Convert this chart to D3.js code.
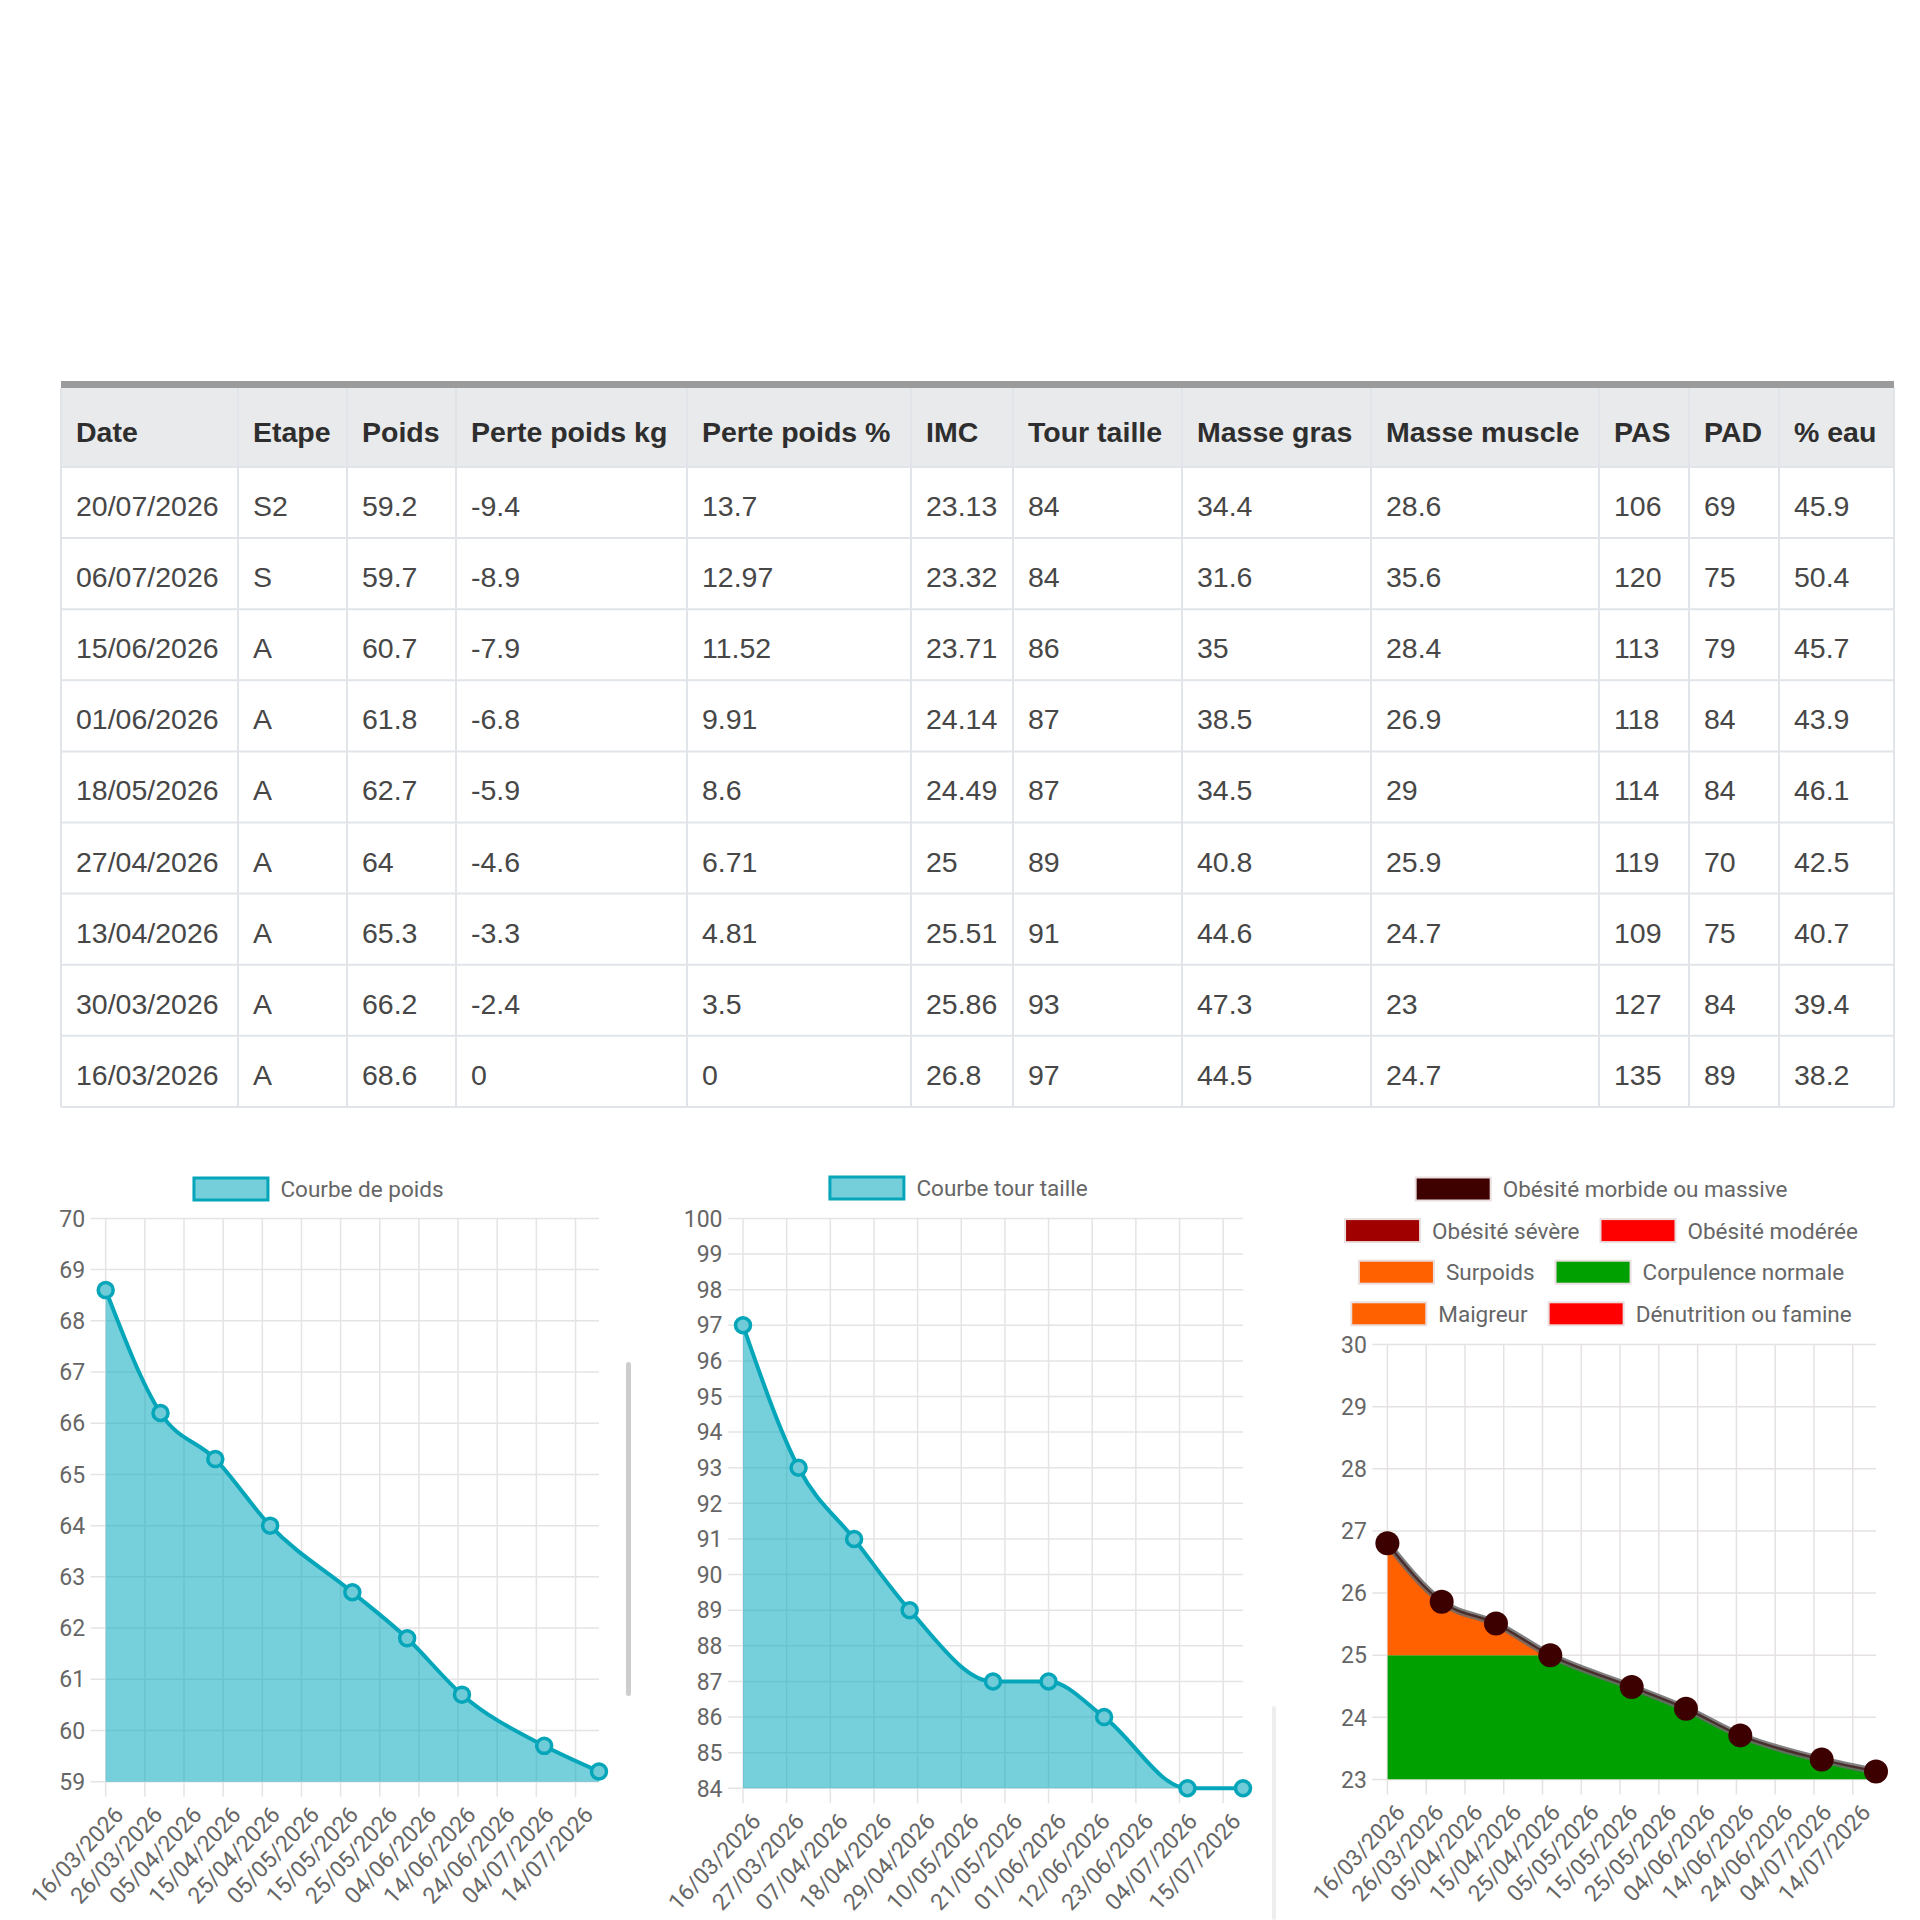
<!DOCTYPE html>
<html><head><meta charset="utf-8">
<script src="https://cdn.jsdelivr.net/npm/d3@7"></script>
<style>body{margin:0;background:#fff}svg{display:block}</style>
</head><body>
<svg id="c" width="1920" height="1920"></svg>
<script>
// ---------- DATA ----------
const headers = ["Date","Etape","Poids","Perte poids kg","Perte poids %","IMC","Tour taille","Masse gras","Masse muscle","PAS","PAD","% eau"];
const dates = ["20/07/2026","06/07/2026","15/06/2026","01/06/2026","18/05/2026","27/04/2026","13/04/2026","30/03/2026","16/03/2026"];
const etapes = ["S2","S","A","A","A","A","A","A","A"];
const poids = [59.2,59.7,60.7,61.8,62.7,64,65.3,66.2,68.6];
const perteKg = [-9.4,-8.9,-7.9,-6.8,-5.9,-4.6,-3.3,-2.4,0];
const pertePct = [13.7,12.97,11.52,9.91,8.6,6.71,4.81,3.5,0];
const imc = [23.13,23.32,23.71,24.14,24.49,25,25.51,25.86,26.8];
const tourTaille = [84,84,86,87,87,89,91,93,97];
const masseGras = [34.4,31.6,35,38.5,34.5,40.8,44.6,47.3,44.5];
const masseMuscle = [28.6,35.6,28.4,26.9,29,25.9,24.7,23,24.7];
const pas = [106,120,113,118,114,119,109,127,135];
const pad = [69,75,79,84,84,70,75,84,89];
const eau = [45.9,50.4,45.7,43.9,46.1,42.5,40.7,39.4,38.2];

const weightTicks = ["16/03/2026","26/03/2026","05/04/2026","15/04/2026","25/04/2026","05/05/2026","15/05/2026","25/05/2026","04/06/2026","14/06/2026","24/06/2026","04/07/2026","14/07/2026"];
const waistTicks = ["16/03/2026","27/03/2026","07/04/2026","18/04/2026","29/04/2026","10/05/2026","21/05/2026","01/06/2026","12/06/2026","23/06/2026","04/07/2026","15/07/2026"];
const imcTicks = ["16/03/2026","26/03/2026","05/04/2026","15/04/2026","25/04/2026","05/05/2026","15/05/2026","25/05/2026","04/06/2026","14/06/2026","24/06/2026","04/07/2026","14/07/2026"];
const weightRange = [59,70];
const waistRange = [84,100];
const imcRange = [23,30];
const imcNormalMax = 25;

const bmiLabels = ["Obésité morbide ou massive","Obésité sévère","Obésité modérée","Surpoids","Corpulence normale","Maigreur","Dénutrition ou famine"];
const bmiColors = ["#3f0000","#a00000","#ff0000","#ff6000","#00a000","#ff6000","#ff0000"];

// ---------- LAYOUT ----------
const svg = d3.select("#c");
const parse = d3.utcParse("%d/%m/%Y");
const fmt = d3.utcFormat("%d/%m/%Y");
const columns = [dates,etapes,poids,perteKg,pertePct,imc,tourTaille,masseGras,masseMuscle,pas,pad,eau];
const colEdges = [61,238,347,456,687,911,1013,1182,1371,1599,1689,1779,1894];
const T = {top:381, bar:7, headH:79, rowH:71.1};

// ---------- TABLE ----------
(function drawTable(){
  const g = svg.append("g");
  const left = colEdges[0], right = colEdges[colEdges.length-1];
  const headTop = T.top + T.bar;
  const bodyTop = headTop + T.headH;
  const bottom = bodyTop + T.rowH*dates.length;
  g.append("rect").attr("x",left).attr("y",headTop).attr("width",right-left).attr("height",T.headH).attr("fill","#e9eaeb");
  g.append("rect").attr("x",left).attr("y",T.top).attr("width",right-left).attr("height",T.bar).attr("fill","#9b9b9b");
  const hy = d3.range(dates.length+1).map(i=>bodyTop+i*T.rowH);
  g.selectAll("line.h").data(hy).join("line")
    .attr("x1",left).attr("x2",right).attr("y1",d=>d).attr("y2",d=>d)
    .attr("stroke","#e1e5e9").attr("stroke-width",2);
  g.selectAll("line.v").data(colEdges).join("line")
    .attr("x1",d=>d).attr("x2",d=>d).attr("y1",headTop).attr("y2",bottom)
    .attr("stroke","#e1e5e9").attr("stroke-width",2);
  g.selectAll("text.hd").data(headers).join("text")
    .attr("x",(d,i)=>colEdges[i]+15).attr("y",headTop+53.5)
    .attr("font-family","'Liberation Sans', Arial, sans-serif").attr("font-weight","bold")
    .attr("font-size",28.5).attr("fill","#2e2e2e").text(d=>d);
  columns.forEach((col,ci)=>{
    g.selectAll("text.c"+ci).data(col).join("text")
      .attr("x",colEdges[ci]+15).attr("y",(d,ri)=>bodyTop+ri*T.rowH+49)
      .attr("font-family","'Liberation Sans', Arial, sans-serif")
      .attr("font-size",28.5).attr("fill","#474747").text(d=>String(d));
  });
})();

// ---------- CHARTS ----------
const TICK_FONT = 23, XTICK_FONT = 23, LEG_FONT = 22.5, ROT = 47;
const chrono = d3.range(dates.length).reverse();

function axesAndGrid(g, x, y, xTicks, yTicks, x0, x1, yTop, yBot, gridColor){
  const gg = g.append("g");
  gg.selectAll("line.gy").data(yTicks).join("line")
    .attr("x1",x0-15).attr("x2",x1).attr("y1",d=>y(d)).attr("y2",d=>y(d))
    .attr("stroke",gridColor).attr("stroke-width",1.5);
  gg.selectAll("line.gx").data(xTicks).join("line")
    .attr("x1",d=>x(d)).attr("x2",d=>x(d)).attr("y1",yTop).attr("y2",yBot+15)
    .attr("stroke",gridColor).attr("stroke-width",1.5);
  g.selectAll("text.yl").data(yTicks).join("text")
    .attr("x",x0-20.5).attr("y",d=>y(d)+8.2).attr("text-anchor","end")
    .attr("font-family","Roboto").attr("font-size",TICK_FONT).attr("fill","#666").text(d=>d);
  g.selectAll("text.xl").data(xTicks).join("text")
    .attr("transform",d=>`translate(${x(d)+19},${yBot+34}) rotate(${-ROT})`)
    .attr("text-anchor","end")
    .attr("font-family","Roboto").attr("font-size",XTICK_FONT).attr("fill","#666").text(d=>fmt(d));
  return gg;
}

function tealChart(opt){
  const g = svg.append("g");
  const pts = chrono.map(i=>({date:parse(dates[i]), v:opt.values[i]}));
  const x = d3.scaleUtc().domain([parse(dates[dates.length-1]), parse(dates[0])]).range([opt.x0,opt.x1]);
  const y = d3.scaleLinear().domain(opt.range).range([opt.yBot,opt.yTop]);
  const yTicks = d3.range(opt.range[0], opt.range[1]+1);
  const xTicks = opt.ticks.map(parse);
  axesAndGrid(g,x,y,xTicks,yTicks,opt.x0,opt.x1,opt.yTop,opt.yBot,"#e4e4e4");
  const area = d3.area().x(d=>x(d.date)).y0(opt.yBot).y1(d=>y(d.v)).curve(d3.curveMonotoneX);
  const line = d3.line().x(d=>x(d.date)).y(d=>y(d.v)).curve(d3.curveMonotoneX);
  g.append("path").attr("d",area(pts)).attr("fill","rgba(0,168,190,0.54)");
  g.append("path").attr("d",line(pts)).attr("fill","none").attr("stroke","#06a6ba").attr("stroke-width",4);
  g.selectAll("circle").data(pts).join("circle")
    .attr("cx",d=>x(d.date)).attr("cy",d=>y(d.v)).attr("r",7.5)
    .attr("fill","#6fcbd7").attr("stroke","#06a6ba").attr("stroke-width",3.5);
  const lg = g.append("g");
  const t = lg.append("text").attr("font-family","Roboto").attr("font-size",LEG_FONT).attr("fill","#666").text(opt.label);
  const tw = t.node().getComputedTextLength();
  const total = 77 + 11 + tw;
  const bx = opt.legendCx - total/2;
  lg.insert("rect","text").attr("x",bx+1.5).attr("y",opt.legendY-11).attr("width",74).attr("height",22)
    .attr("fill","#75cfdb").attr("stroke","#06a6ba").attr("stroke-width",3);
  t.attr("x",bx+88).attr("y",opt.legendY+8);
}

tealChart({values:poids, range:weightRange, ticks:weightTicks, x0:105.7, x1:599, yTop:1218.4, yBot:1781.7,
  label:"Courbe de poids", legendCx:318, legendY:1189});
tealChart({values:tourTaille, range:waistRange, ticks:waistTicks, x0:743, x1:1243, yTop:1218.4, yBot:1788.3,
  label:"Courbe tour taille", legendCx:958, legendY:1188});

// IMC chart
(function(){
  const g = svg.append("g");
  const x0=1387.4, x1=1876, yTop=1344.5, yBot=1779.5;
  const pts = chrono.map(i=>({date:parse(dates[i]), v:imc[i]}));
  const x = d3.scaleUtc().domain([parse(dates[dates.length-1]), parse(dates[0])]).range([x0,x1]);
  const y = d3.scaleLinear().domain(imcRange).range([yBot,yTop]);
  const yTicks = d3.range(imcRange[0], imcRange[1]+1);
  axesAndGrid(g,x,y,imcTicks.map(parse),yTicks,x0,x1,yTop,yBot,"#e6e2e2");
  const area = d3.area().x(d=>x(d.date)).y0(yBot).y1(d=>y(d.v)).curve(d3.curveMonotoneX);
  const line = d3.line().x(d=>x(d.date)).y(d=>y(d.v)).curve(d3.curveMonotoneX);
  const defs = svg.append("defs");
  defs.append("clipPath").attr("id","clipN").append("rect")
    .attr("x",x0).attr("y",y(imcNormalMax)).attr("width",x1-x0).attr("height",yBot-y(imcNormalMax));
  defs.append("clipPath").attr("id","clipO").append("rect")
    .attr("x",x0).attr("y",yTop).attr("width",x1-x0).attr("height",y(imcNormalMax)-yTop);
  g.append("path").attr("d",area(pts)).attr("fill",bmiColors[4]).attr("clip-path","url(#clipN)");
  g.append("path").attr("d",area(pts)).attr("fill",bmiColors[3]).attr("clip-path","url(#clipO)");
  g.append("path").attr("d",line(pts)).attr("fill","none").attr("stroke","#6a6a6a").attr("stroke-width",7).attr("opacity",0.85);
  g.append("path").attr("d",line(pts)).attr("fill","none").attr("stroke","#4a2e2e").attr("stroke-width",2.5);
  g.selectAll("circle").data(pts).join("circle")
    .attr("cx",d=>x(d.date)).attr("cy",d=>y(d.v)).attr("r",12).attr("fill","#3d0000");
  const cx = 1601, maxW = 600, rowY0 = 1189, rowGap = 41.6;
  const lg = g.append("g");
  const items = bmiLabels.map((l,i)=>{
    const t = lg.append("text").attr("font-family","Roboto").attr("font-size",LEG_FONT).attr("fill","#666").text(l);
    return {t, w: 77+11+t.node().getComputedTextLength(), c: bmiColors[i]};
  });
  const rows = [];
  items.forEach(it=>{
    const r = rows[rows.length-1];
    if(r && r.w + 20 + it.w <= maxW){ r.items.push(it); r.w += 20 + it.w; }
    else rows.push({items:[it], w:it.w});
  });
  rows.forEach((r,ri)=>{
    let bx = cx - r.w/2; const yc = rowY0 + ri*rowGap;
    r.items.forEach(it=>{
      lg.insert("rect","text").attr("x",bx+1).attr("y",yc-11.5).attr("width",75).attr("height",23)
        .attr("fill",it.c).attr("stroke","#eadede").attr("stroke-width",2);
      it.t.attr("x",bx+88).attr("y",yc+8);
      bx += it.w + 20;
    });
  });
})();

// scrollbar remnants
svg.append("rect").attr("x",626).attr("y",1362).attr("width",5).attr("height",334).attr("rx",2.5).attr("fill","#cdcdcd");
svg.append("rect").attr("x",1272).attr("y",1706).attr("width",4).attr("height",214).attr("rx",2).attr("fill","#eeeeee");
</script>
</body></html>
